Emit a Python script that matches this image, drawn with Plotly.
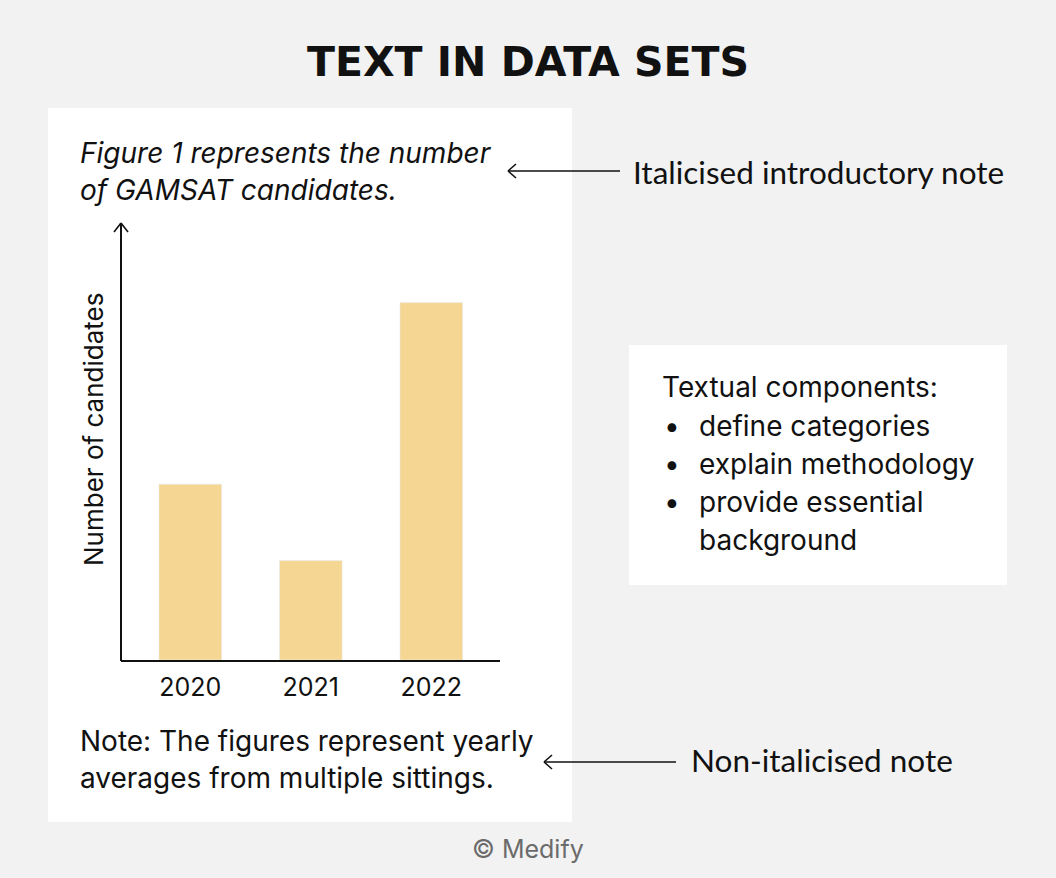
import plotly.graph_objects as go

W, H = 1056, 878

# data
years = ["2020", "2021", "2022"]
candidates = [4600, 2600, 9350]

title = "TEXT IN DATA SETS"
intro_lines = ["Figure 1 represents the number", "of GAMSAT candidates."]
note_lines = ["Note: The figures represent yearly", "averages from multiple sittings."]
box_heading = "Textual components:"
box_items = ["define categories", "explain methodology", "provide essential", "background"]
box_bullets = [True, True, True, False]
callout_intro = "Italicised introductory note"
callout_note = "Non-italicised note"
credit = "© Medify"

BAR = "#f5d793"
INK = "#111111"
BODY = "Inter"
HAND = "Lato"


def px(x):
    return x / W


def py(y):
    return 1 - y / H


fig = go.Figure()
fig.add_trace(go.Bar(
    x=years, y=candidates, marker_color=BAR, width=0.52, hoverinfo="x+y",
))

shapes = [
    # white panel behind the chart
    dict(type="rect", xref="paper", yref="paper", x0=px(48), x1=px(572), y0=py(822), y1=py(108),
         fillcolor="white", line_width=0, layer="below"),
    # right box
    dict(type="rect", xref="paper", yref="paper", x0=px(629), x1=px(1007), y0=py(585), y1=py(345),
         fillcolor="white", line_width=0, layer="below"),
]


def line(x0, y0, x1, y1, w=2):
    shapes.append(dict(type="line", xref="paper", yref="paper", x0=px(x0), y0=py(y0), x1=px(x1), y1=py(y1),
                       line=dict(color=INK, width=w)))


# y axis with arrow head
line(121, 661, 121, 223)
line(121, 223, 114, 232, 1.6)
line(121, 223, 128, 232, 1.6)
# callout arrows
line(620, 171, 508, 171, 1.6)
line(508, 171, 516, 164, 1.6)
line(508, 171, 516, 178, 1.6)
line(676, 762, 544, 762, 1.6)
line(544, 762, 552, 755, 1.6)
line(544, 762, 552, 769, 1.6)

ann = []


def text(x, y, s, size, family=BODY, anchor="left", color=INK, italic=False, weight="normal", angle=0):
    ann.append(dict(xref="paper", yref="paper", x=px(x), y=py(y), text=s, showarrow=False,
                    xanchor=anchor, yanchor="middle", textangle=angle,
                    font=dict(size=size, family=family, color=color,
                              style="italic" if italic else "normal", weight=weight)))


text(528, 62, title, 41, family="DejaVu Sans", anchor="center", weight="bold")
for i, s in enumerate(intro_lines):
    text(78, 153 + 37 * i, s, 28, italic=True)
for i, s in enumerate(note_lines):
    text(78, 741 + 37 * i, s, 28)
text(93, 430, "Number of candidates", 26, anchor="center", angle=-90)
text(660, 387, box_heading, 28)
for i, (s, b) in enumerate(zip(box_items, box_bullets)):
    yy = 426 + 38 * i
    if b:
        text(662, yy, "•", 28)
    text(697, yy, s, 28)
text(631, 172, callout_intro, 31.5, family=HAND)
text(689, 760, callout_note, 31.5, family=HAND)
text(528, 849, credit, 25, anchor="center", color="#6b6b6b")

fig.update_layout(
    width=W, height=H, margin=dict(l=0, r=0, t=0, b=0),
    paper_bgcolor="#f2f2f2", plot_bgcolor="rgba(0,0,0,0)",
    showlegend=False, shapes=shapes, annotations=ann,
    xaxis=dict(domain=[px(121), px(500)], range=[-0.575, 2.57], showgrid=False, zeroline=False,
               showline=True, linecolor=INK, linewidth=2, ticks="",
               tickfont=dict(size=25, family=BODY, color=INK), ticklabelstandoff=4),
    yaxis=dict(domain=[py(660), py(230)], range=[0, 11250], showgrid=False, zeroline=False,
               showline=False, showticklabels=False),
)

fig.write_html("out.html", config={"displayModeBar": False},
               post_script="document.body.style.margin='0';document.body.style.overflow='hidden';")
